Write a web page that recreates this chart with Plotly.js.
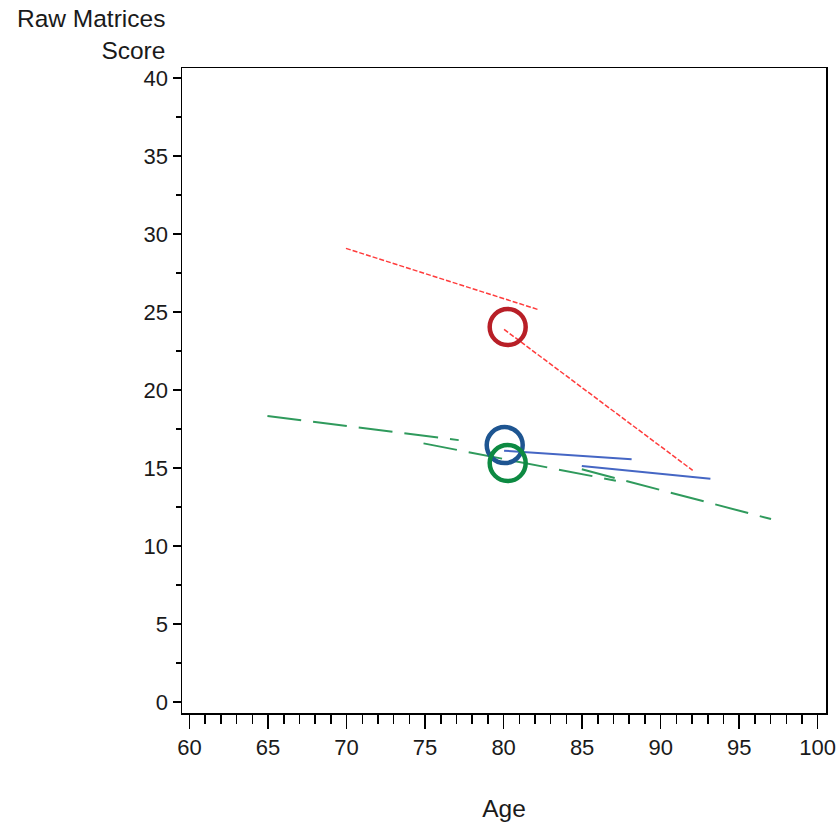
<!DOCTYPE html>
<html>
<head>
<meta charset="utf-8">
<script src="https://cdn.plot.ly/plotly-3.0.1.min.js"></script>
<style>
  html, body { margin: 0; padding: 0; background: #fff; }
  #chart { width: 838px; height: 824px; }
</style>
</head>
<body>
<div id="chart"></div>
<script>
// ---- Data ----
// Each series is a set of straight segments: start/end age and score
const redStartAge   = [69.96, 80.03];
const redEndAge     = [82.16, 92.04];
const redStartScore = [29.08, 23.89];
const redEndScore   = [25.17, 14.85];

const blueStartAge   = [80.03, 84.98];
const blueEndAge     = [88.15, 93.17];
const blueStartScore = [16.11, 15.13];
const blueEndScore   = [15.56, 14.31];

const greenStartAge   = [64.96, 74.90, 84.98];
const greenEndAge     = [77.14, 87.15, 97.03];
const greenStartScore = [18.33, 16.58, 14.92];
const greenEndScore   = [16.79, 14.19, 11.73];

// Highlighted means (open circles)
const circleAge   = [80.26, 80.07, 80.26];
const circleScore = [24.04, 16.47, 15.32];
const circleColors = ['#b81f27', '#1e5591', '#0d8a42'];

const xTickVals = [60, 65, 70, 75, 80, 85, 90, 95, 100];
const yTickVals = [0, 5, 10, 15, 20, 25, 30, 35, 40];

function segs(sa, ea, ss, es) {
  const x = [], y = [];
  for (let i = 0; i < sa.length; i++) {
    x.push(sa[i], ea[i], null);
    y.push(ss[i], es[i], null);
  }
  return {x, y};
}

const g = segs(greenStartAge, greenEndAge, greenStartScore, greenEndScore);
const b = segs(blueStartAge, blueEndAge, blueStartScore, blueEndScore);
const r = segs(redStartAge, redEndAge, redStartScore, redEndScore);

const traces = [
  { x: g.x, y: g.y, mode: 'lines', connectgaps: false,
    line: { color: '#2f9a5c', width: 2, dash: '34px,12px' }, hoverinfo: 'skip' },
  { x: b.x, y: b.y, mode: 'lines', connectgaps: false,
    line: { color: '#4566c4', width: 2 }, hoverinfo: 'skip' },
  { x: r.x, y: r.y, mode: 'lines', connectgaps: false,
    line: { color: '#ff3b3b', width: 1.5, dash: '5px,2px' }, hoverinfo: 'skip' }
];
for (let i = 0; i < circleAge.length; i++) {
  traces.push({
    x: [circleAge[i]], y: [circleScore[i]], mode: 'markers',
    marker: { symbol: 'circle-open', size: 36, color: circleColors[i],
              line: { color: circleColors[i], width: 4.5 } },
    hoverinfo: 'skip'
  });
}

const font = { family: '"Liberation Sans", Arial, sans-serif', size: 22, color: '#1a1a1a' };
const titleFont = { family: '"Liberation Sans", Arial, sans-serif', size: 24.5, color: '#1a1a1a' };

const layout = {
  width: 838, height: 824,
  margin: { l: 182, r: 12, t: 68, b: 111 },
  paper_bgcolor: '#ffffff', plot_bgcolor: '#ffffff',
  showlegend: false,
  font: font,
  xaxis: {
    range: [59.52, 100.53],
    tickvals: xTickVals,
    ticks: 'outside', ticklen: 14, tickwidth: 1.5, tickcolor: '#000',
    minor: { ticks: 'outside', dtick: 1, tick0: 60, ticklen: 9, tickwidth: 1.5, tickcolor: '#000' },
    showline: true, linecolor: '#000', linewidth: 1.5, mirror: true,
    showgrid: false, zeroline: false,
    tickfont: font,
    title: { text: 'Age', font: titleFont, standoff: 41 }
  },
  yaxis: {
    range: [-0.7, 40.64],
    tickvals: yTickVals,
    ticks: 'outside', ticklen: 8, tickwidth: 1.5, tickcolor: '#000',
    minor: { ticks: 'outside', dtick: 2.5, tick0: 0, ticklen: 5, tickwidth: 1.5, tickcolor: '#000' },
    showline: true, linecolor: '#000', linewidth: 1.5, mirror: true,
    showgrid: false, zeroline: false,
    tickfont: font
  },
  annotations: [{
    text: 'Raw Matrices<br>Score', xref: 'paper', yref: 'paper',
    x: -0.0235, y: 1, xanchor: 'right', yanchor: 'bottom', yshift: 2,
    align: 'right', showarrow: false, font: titleFont
  }]
};

Plotly.newPlot('chart', traces, layout, { staticPlot: true, displayModeBar: false });
</script>
</body>
</html>
